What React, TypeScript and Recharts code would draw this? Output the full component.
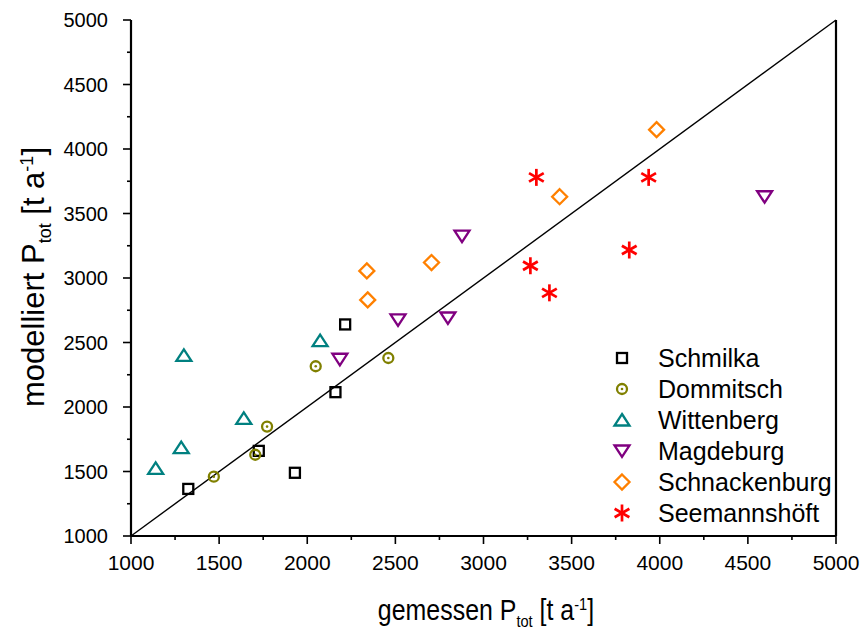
import React from 'react';
import {
  ScatterChart,
  Scatter,
  XAxis,
  YAxis,
  ReferenceLine,
} from 'recharts';

// measured vs. modelled P_tot per station (t/a)
const schmilka = [
  { x: 1325, y: 1365 },
  { x: 1725, y: 1660 },
  { x: 1930, y: 1490 },
  { x: 2160, y: 2115 },
  { x: 2215, y: 2640 },
];
const dommitsch = [
  { x: 1470, y: 1460 },
  { x: 1705, y: 1630 },
  { x: 1772, y: 1848 },
  { x: 2048, y: 2316 },
  { x: 2460, y: 2380 },
];
const wittenberg = [
  { x: 1140, y: 1525 },
  { x: 1285, y: 1685 },
  { x: 1300, y: 2400 },
  { x: 1640, y: 1912 },
  { x: 2073, y: 2515 },
];
const magdeburg = [
  { x: 2185, y: 2370 },
  { x: 2515, y: 2675 },
  { x: 2798, y: 2690 },
  { x: 2878, y: 3325 },
  { x: 4595, y: 3630 },
];
const schnackenburg = [
  { x: 2343, y: 2830 },
  { x: 2338, y: 3055 },
  { x: 2705, y: 3120 },
  { x: 3432, y: 3630 },
  { x: 3982, y: 4150 },
];
const seemannshoeft = [
  { x: 3300, y: 3780 },
  { x: 3937, y: 3780 },
  { x: 3827, y: 3217 },
  { x: 3266, y: 3095 },
  { x: 3374, y: 2885 },
];

const axisTicks = [
  1000, 1250, 1500, 1750, 2000, 2250, 2500, 2750, 3000, 3250, 3500, 3750, 4000,
  4250, 4500, 4750, 5000,
];

const FONT = '"Liberation Sans", Arial, sans-serif';

type MarkerKind = 'square' | 'circle' | 'up' | 'down' | 'diamond' | 'star';

const Marker = ({ kind, cx, cy, color }: { kind: MarkerKind; cx: number; cy: number; color: string }) => {
  const sw = 2.3;
  switch (kind) {
    case 'square':
      return <rect x={cx - 5} y={cy - 5} width={10} height={10} fill="none" stroke={color} strokeWidth={sw} />;
    case 'circle':
      return (
        <g>
          <circle cx={cx} cy={cy} r={5} fill="none" stroke={color} strokeWidth={sw} />
          <circle cx={cx} cy={cy} r={1.3} fill={color} />
        </g>
      );
    case 'up':
      return (
        <polygon
          points={`${cx},${cy - 6} ${cx + 7.5},${cy + 5.5} ${cx - 7.5},${cy + 5.5}`}
          fill="none"
          stroke={color}
          strokeWidth={sw}
        />
      );
    case 'down':
      return (
        <polygon
          points={`${cx - 7.5},${cy - 5.5} ${cx + 7.5},${cy - 5.5} ${cx},${cy + 6}`}
          fill="none"
          stroke={color}
          strokeWidth={sw}
        />
      );
    case 'diamond':
      return (
        <polygon
          points={`${cx},${cy - 7.5} ${cx + 7.5},${cy} ${cx},${cy + 7.5} ${cx - 7.5},${cy}`}
          fill="none"
          stroke={color}
          strokeWidth={sw}
        />
      );
    default: {
      const r = 8.5;
      const dx = r * Math.cos(Math.PI / 6);
      const dy = r * Math.sin(Math.PI / 6);
      return (
        <g stroke={color} strokeWidth={2.7}>
          <line x1={cx} y1={cy - r} x2={cx} y2={cy + r} />
          <line x1={cx - dx} y1={cy - dy} x2={cx + dx} y2={cy + dy} />
          <line x1={cx - dx} y1={cy + dy} x2={cx + dx} y2={cy - dy} />
        </g>
      );
    }
  }
};

const series: { name: string; data: { x: number; y: number }[]; kind: MarkerKind; color: string }[] = [
  { name: 'Schmilka', data: schmilka, kind: 'square', color: '#000000' },
  { name: 'Dommitsch', data: dommitsch, kind: 'circle', color: '#808000' },
  { name: 'Wittenberg', data: wittenberg, kind: 'up', color: '#008080' },
  { name: 'Magdeburg', data: magdeburg, kind: 'down', color: '#800080' },
  { name: 'Schnackenburg', data: schnackenburg, kind: 'diamond', color: '#FF8000' },
  { name: 'Seemannshöft', data: seemannshoeft, kind: 'star', color: '#FF0000' },
];

const BottomTick = (props: any) => {
  const { x, y, payload } = props;
  const major = payload.value % 500 === 0;
  return (
    <g>
      <line x1={x} x2={x} y1={y} y2={y + (major ? 8 : 4)} stroke="#000" strokeWidth={1.6} />
      {major && (
        <text x={x} y={y + 34} textAnchor="middle" fontSize={21} fontFamily={FONT} fill="#000">
          {payload.value}
        </text>
      )}
    </g>
  );
};

const LeftTick = (props: any) => {
  const { x, y, payload } = props;
  const major = payload.value % 500 === 0;
  return (
    <g>
      <line x1={x - (major ? 8 : 4)} x2={x} y1={y} y2={y} stroke="#000" strokeWidth={1.6} />
      {major && (
        <text x={x - 23} y={y + 7} textAnchor="end" fontSize={20} fontFamily={FONT} fill="#000">
          {payload.value}
        </text>
      )}
    </g>
  );
};

const RightTick = (props: any) => {
  const { x, y, payload } = props;
  const major = payload.value % 500 === 0;
  return <line x1={x} x2={x + (major ? 5 : 3)} y1={y} y2={y} stroke="#000" strokeWidth={1.5} />;
};

export default function App() {
  const legendTop = 358;
  const legendStep = 31;
  return (
    <div style={{ position: 'absolute', left: 0, top: 0, width: 865, height: 634, background: '#fff' }}>
      <ScatterChart width={865} height={634} margin={{ top: 20, right: 19, left: 61, bottom: 58 }}>
        <XAxis
          type="number"
          dataKey="x"
          domain={[1000, 5000]}
          ticks={axisTicks}
          interval={0}
          height={40}
          tickSize={0}
          tickMargin={0}
          tickLine={false}
          tick={<BottomTick />}
          axisLine={{ stroke: '#000', strokeWidth: 2.2 }}
          allowDataOverflow
        />
        <XAxis
          xAxisId="top"
          orientation="top"
          type="number"
          domain={[1000, 5000]}
          height={0}
          tick={false}
          tickLine={false}
          axisLine={{ stroke: '#000', strokeWidth: 2.2 }}
        />
        <YAxis
          type="number"
          dataKey="y"
          domain={[1000, 5000]}
          ticks={axisTicks}
          interval={0}
          width={70}
          tickSize={0}
          tickMargin={0}
          tickLine={false}
          tick={<LeftTick />}
          axisLine={{ stroke: '#000', strokeWidth: 2.2 }}
          allowDataOverflow
        />
        <YAxis
          yAxisId="right"
          orientation="right"
          type="number"
          domain={[1000, 5000]}
          ticks={axisTicks}
          interval={0}
          width={10}
          tickSize={0}
          tickMargin={0}
          tickLine={false}
          tick={<RightTick />}
          axisLine={{ stroke: '#000', strokeWidth: 2.2 }}
        />
        <ReferenceLine
          segment={[
            { x: 1000, y: 1000 },
            { x: 5000, y: 5000 },
          ]}
          stroke="#000"
          strokeWidth={1.4}
        />
        {series.map((s) => (
          <Scatter
            key={s.name}
            name={s.name}
            data={s.data}
            isAnimationActive={false}
            shape={(p: any) => <Marker kind={s.kind} cx={p.cx} cy={p.cy} color={s.color} />}
          />
        ))}
      </ScatterChart>
      <svg
        width={865}
        height={634}
        style={{ position: 'absolute', left: 0, top: 0, pointerEvents: 'none' }}
        fontFamily={FONT}
      >
        {series.map((s, i) => (
          <g key={s.name}>
            <Marker kind={s.kind} cx={622} cy={legendTop + i * legendStep} color={s.color} />
            <text x={658} y={legendTop + i * legendStep + 8.5} fontSize={25} fill="#000">
              {s.name}
            </text>
          </g>
        ))}
        <g transform="translate(486,620) scale(0.86,1)">
          <text x={0} y={0} textAnchor="middle" fontSize={29} fill="#000">
            gemessen P
            <tspan fontSize={17} dy={7}>tot</tspan>
            <tspan dy={-7}> [t a</tspan>
            <tspan fontSize={17} dy={-10}>-1</tspan>
            <tspan dy={10}>]</tspan>
          </text>
        </g>
        <g transform="translate(44,277) rotate(-90)">
          <text x={0} y={0} textAnchor="middle" fontSize={31} fill="#000">
            modelliert P
            <tspan fontSize={18} dy={7}>tot</tspan>
            <tspan dy={-7}> [t a</tspan>
            <tspan fontSize={18} dy={-11}>-1</tspan>
            <tspan dy={11}>]</tspan>
          </text>
        </g>
      </svg>
    </div>
  );
}
